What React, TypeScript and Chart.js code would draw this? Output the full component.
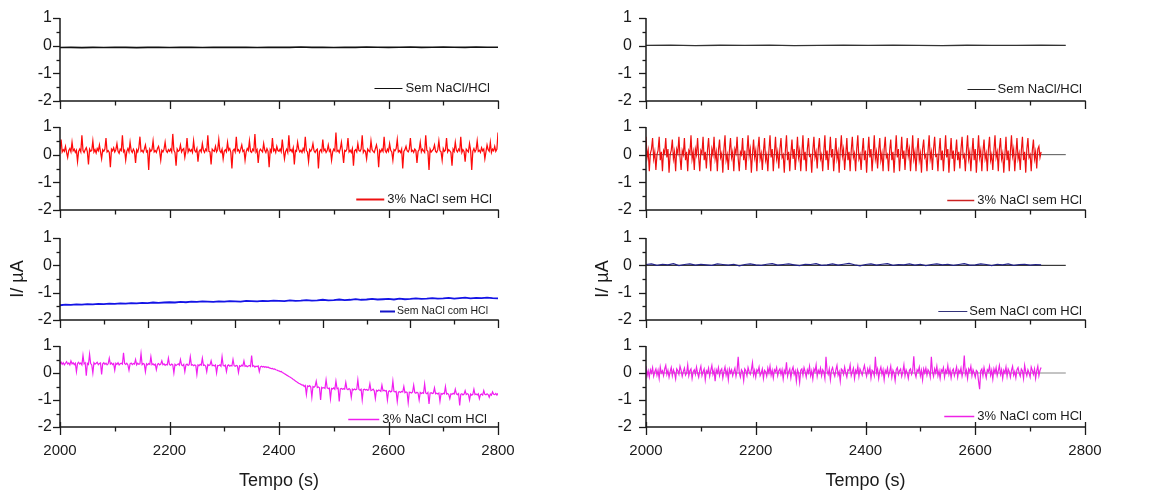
import React, { useEffect, useRef } from "react";
import { Chart, registerables } from "chart.js";

Chart.register(...registerables);
Chart.defaults.font.family = '"Liberation Sans", Arial, sans-serif';

// ---------------- data ----------------
const X_MIN = 2000;
const X_MAX = 2800;
const X_LABEL_STEP = 200;
const Y_MIN = -2;
const Y_MAX = 1;

// Left column
const L1_START = 2000;
const L1_STEP = 20;
const L1_VALUES = [
  -0.065, -0.06, -0.07, -0.06, -0.065, -0.06, -0.06, -0.07, -0.06, -0.055,
  -0.065, -0.06, -0.055, -0.065, -0.06, -0.055, -0.06, -0.055, -0.065, -0.06,
  -0.055, -0.06, -0.05, -0.06, -0.055, -0.065, -0.055, -0.06, -0.05, -0.055,
  -0.06, -0.055, -0.05, -0.06, -0.055, -0.05, -0.055, -0.06, -0.05, -0.055, -0.055,
];

const L2_START = 2000;
const L2_STEP = 2;
const L2_VALUES = [
  0.2, 0.55, 0.1, 0.18, 0.12, 0.3, 0.08, -0.1, 0.15, 0.22, 0.1, 0.45, 0.14, 0.2, 0.08, 0.16, -0.25, 0.12, 0.2, 0.1,
  0.7, 0.15, 0.08, 0.18, 0.25, 0.1, -0.35, 0.2, 0.12, 0.15, 0.5, 0.1, 0.18, 0.06, 0.22, 0.14, 0.35, 0.1, -0.15, 0.18,
  0.12, 0.2, 0.6, 0.1, 0.15, 0.08, -0.45, 0.2, 0.14, 0.25, 0.1, 0.18, 0.4, 0.12, 0.05, 0.2, 0.15, 0.7, 0.1, 0.16,
  -0.2, 0.12, 0.22, 0.1, 0.45, 0.15, 0.08, 0.2, 0.12, -0.3, 0.18, 0.1, 0.25, 0.65, 0.12, 0.16, 0.08, 0.2, 0.35, 0.1,
  0.14, -0.55, 0.2, 0.12, 0.18, 0.5, 0.1, 0.15, 0.08, 0.22, 0.3, 0.12, -0.2, 0.16, 0.1, 0.2, 0.45, 0.14, 0.08, 0.18,
  0.12, 0.2, 0.1, 0.75, 0.16, 0.08, -0.4, 0.2, 0.12, 0.15, 0.35, 0.1, 0.18, 0.22, -0.1, 0.14, 0.6, 0.1, 0.2, 0.12,
  0.18, 0.08, 0.5, 0.15, 0.1, 0.22, -0.25, 0.12, 0.18, 0.1, 0.4, 0.16, 0.08, 0.2, 0.14, 0.7, 0.12, 0.1, -0.35, 0.2,
  0.15, 0.12, 0.3, 0.1, 0.18, 0.55, 0.14, 0.08, 0.2, -0.15, 0.12, 0.18, 0.1, 0.45, 0.16, 0.22, 0.08, -0.5, 0.15, 0.2,
  0.1, 0.65, 0.14, 0.18, 0.08, 0.2, 0.35, 0.12, 0.16, -0.2, 0.1, 0.22, 0.15, 0.5, 0.12, 0.08, 0.2, 0.14, 0.75, 0.1,
  0.18, -0.3, 0.12, 0.2, 0.15, 0.1, 0.4, 0.16, 0.08, 0.22, 0.12, -0.45, 0.18, 0.1, 0.6, 0.14, 0.2, 0.08, 0.3, 0.15,
  0.12, 0.2, 0.1, 0.55, 0.16, -0.15, 0.12, 0.2, 0.08, 0.7, 0.14, 0.18, 0.1, 0.25, -0.35, 0.15, 0.12, 0.45, 0.2, 0.1,
  0.16, 0.08, 0.22, 0.12, 0.65, 0.15, 0.1, -0.25, 0.18, 0.12, 0.2, 0.4, 0.14, 0.08, 0.16, 0.2, -0.5, 0.12, 0.18, 0.1,
  0.55, 0.14, 0.2, 0.08, 0.15, 0.35, 0.12, 0.18, -0.2, 0.1, 0.2, 0.14, 0.8, 0.12, 0.16, 0.08, 0.22, 0.45, 0.1, -0.3,
  0.15, 0.12, 0.2, 0.6, 0.1, 0.16, 0.08, 0.22, -0.4, 0.14, 0.18, 0.1, 0.4, 0.15, 0.12, 0.2, 0.7, 0.08, 0.16, 0.12,
  -0.15, 0.2, 0.14, 0.1, 0.5, 0.18, 0.12, 0.08, 0.22, 0.35, 0.14, -0.45, 0.16, 0.1, 0.2, 0.12, 0.65, 0.15, 0.08, 0.2,
  0.12, 0.4, 0.16, 0.1, -0.2, 0.18, 0.14, 0.22, 0.55, 0.1, 0.15, 0.08, 0.2, -0.5, 0.12, 0.18, 0.3, 0.14, 0.1, 0.2,
  0.6, 0.12, 0.16, 0.08, 0.2, 0.15, -0.3, 0.12, 0.18, 0.45, 0.1, 0.2, 0.14, 0.08, 0.7, 0.16, 0.12, -0.55, 0.2, 0.1,
  0.15, 0.2, 0.35, 0.12, 0.08, 0.18, 0.5, 0.14, 0.1, -0.2, 0.22, 0.12, 0.16, 0.6, 0.1, 0.18, 0.14, 0.08, -0.4, 0.2,
  0.12, 0.45, 0.16, 0.1, 0.2, 0.14, 0.65, 0.08, 0.18, 0.12, -0.25, 0.2, 0.15, 0.1, 0.4, 0.16, -0.55, 0.12, 0.22, 0.1,
  0.18, 0.5, 0.12, 0.16, 0.08, 0.25, 0.14, 0.2, -0.15, 0.1, 0.35, 0.18, 0.12, 0.45, 0.08, 0.2, 0.14, 0.3, 0.12, 0.2,
  0.8,
];

const L3_START = 2000;
const L3_STEP = 10;
const L3_VALUES = [
  -1.46, -1.44, -1.45, -1.43, -1.44, -1.42, -1.43, -1.41, -1.42, -1.4,
  -1.41, -1.39, -1.4, -1.38, -1.39, -1.37, -1.38, -1.36, -1.37, -1.36,
  -1.35, -1.36, -1.34, -1.35, -1.33, -1.34, -1.32, -1.33, -1.34, -1.32,
  -1.33, -1.31, -1.32, -1.33, -1.3, -1.31, -1.32, -1.3, -1.31, -1.29,
  -1.3, -1.31, -1.28, -1.3, -1.29, -1.27, -1.29, -1.28, -1.26, -1.28,
  -1.27, -1.25, -1.27, -1.26, -1.24, -1.26, -1.25, -1.23, -1.25, -1.24,
  -1.23, -1.25, -1.22, -1.24, -1.23, -1.21, -1.23, -1.22, -1.2, -1.22,
  -1.21, -1.19, -1.22, -1.2, -1.18, -1.21, -1.19, -1.2, -1.18, -1.2,
  -1.21,
];

const L4_START = 2000;
const L4_STEP = 2;
const L4_VALUES = [
  0.35, 0.4, 0.32, 0.38, 0.3, 0.36, 0.42, 0.33, 0.37, 0.3, 0.45, 0.34, 0.38, 0.31, 0.36, 0.05, 0.35, 0.4, 0.33, 0.37,
  0.3, 0.65, 0.34, 0.38, -0.1, 0.36, 0.32, 0.7, 0.35, 0.3, 0.0, 0.38, 0.33, 0.36, 0.4, 0.31, 0.35, 0.37, -0.05, 0.34,
  0.38, 0.32, 0.36, 0.3, 0.34, 0.55, 0.33, 0.37, 0.31, 0.35, 0.1, 0.36, 0.32, 0.38, 0.3, 0.34, 0.36, 0.33, 0.75, 0.35,
  0.32, 0.36, 0.3, 0.1, 0.34, 0.37, 0.31, 0.35, 0.33, 0.5, 0.3, 0.36, 0.32, 0.34, 0.72, 0.31, 0.35, 0.33, 0.05, 0.34,
  0.3, 0.35, 0.32, 0.6, 0.31, 0.34, 0.29, 0.33, 0.12, 0.32, 0.35, 0.3, 0.33, 0.45, 0.31, 0.34, 0.28, 0.32, 0.3, 0.55,
  0.31, 0.29, 0.33, 0.3, 0.0, 0.32, 0.28, 0.31, 0.34, 0.29, 0.5, 0.3, 0.27, 0.32, 0.05, 0.3, 0.33, 0.28, 0.31, 0.6,
  0.29, 0.31, 0.27, 0.3, 0.28, -0.05, 0.3, 0.27, 0.32, 0.29, 0.55, 0.28, 0.3, 0.26, 0.05, 0.31, 0.28, 0.3, 0.45, 0.27,
  0.29, 0.26, 0.3, 0.0, 0.28, 0.27, 0.3, 0.25, 0.6, 0.28, 0.26, 0.29, 0.05, 0.27, 0.3, 0.25, 0.28, 0.26, 0.5, 0.27,
  0.25, 0.28, 0.26, 0.02, 0.27, 0.24, 0.29, 0.26, 0.45, 0.25, 0.27, 0.23, 0.26, 0.28, 0.24, 0.65, 0.25, 0.27, 0.22, 0.25,
  0.24, 0.26, 0.05, 0.23, 0.25, 0.22, 0.24, 0.21, 0.23, 0.2, 0.22, 0.19, 0.18, 0.16, 0.17, 0.14, 0.15, 0.12, 0.11, 0.09,
  0.08, 0.05, 0.06, 0.02, 0.0, -0.03, -0.05, -0.08, -0.1, -0.13, -0.15, -0.18, -0.2, -0.24, -0.26, -0.3, -0.32, -0.35, -0.38, -0.4,
  -0.42, -0.45, -0.44, -0.5, -0.46, -0.8, -0.48, -0.5, -0.47, -0.52, -0.9, -0.5, -0.53, -0.49, -0.3, -0.54, -0.52, -0.55, -1.0, -0.53,
  -0.56, -0.54, -0.57, -0.25, -0.55, -0.58, -0.56, -0.95, -0.57, -0.59, -0.55, -0.6, -0.3, -0.58, -0.56, -1.05, -0.59, -0.57, -0.6, -0.58,
  -0.6, -0.35, -0.59, -0.62, -0.58, -0.61, -0.9, -0.6, -0.63, -0.59, -0.62, -0.6, -0.25, -0.61, -0.64, -0.6, -1.0, -0.62, -0.6, -0.63,
  -0.61, -0.64, -0.62, -0.4, -0.65, -0.63, -0.6, -0.66, -0.95, -0.64, -0.67, -0.63, -0.65, -0.68, -0.45, -0.66, -0.64, -0.67, -0.65, -1.0,
  -0.68, -0.66, -0.7, -0.67, -0.3, -0.69, -0.7, -0.68, -1.05, -0.71, -0.69, -0.72, -0.68, -0.7, -0.5, -0.73, -0.7, -0.72, -1.1, -0.71,
  -0.72, -0.74, -0.7, -0.45, -0.73, -0.75, -0.71, -0.74, -1.0, -0.72, -0.76, -0.73, -0.75, -0.4, -0.74, -0.77, -0.72, -1.15, -0.75, -0.73,
  -0.76, -0.74, -0.55, -0.77, -0.75, -0.78, -0.74, -1.05, -0.76, -0.79, -0.75, -0.77, -0.5, -0.78, -0.76, -0.8, -0.95, -0.77, -0.79, -0.75,
  -0.78, -0.6, -0.77, -0.8, -0.76, -1.2, -0.79, -0.77, -0.81, -0.78, -0.65, -0.8, -0.77, -0.79, -1.0, -0.78, -0.82, -0.79, -0.6, -0.8,
  -0.78, -0.81, -0.77, -0.95, -0.8, -0.78, -0.82, -0.65, -0.79, -0.81, -0.77, -0.8, -0.9, -0.78, -0.82, -0.7, -0.79, -0.8, -0.76, -0.82,
  -0.75,
];

// Right column
const R_BASE_X = [2000, 2765];
const R_BASE_Y = [0, 0];

const R1_START = 2000;
const R1_STEP = 45;
const R1_VALUES = [
  0.01, 0.02, 0.0, 0.015, 0.01, 0.02, 0.005, 0.01, 0.015, 0.01, 0.02, 0.01, 0.0, 0.015, 0.01, 0.01, 0.015, 0.01,
];

const R2_START = 2000;
const R2_STEP = 2;
const R2_VALUES = [
  0.65, -0.1, 0.15, -0.6, 0.05, 0.2, 0.6, -0.15, 0.1, -0.55, 0.0, 0.15, 0.65, -0.2, 0.1, -0.6, 0.15, 0.05, 0.6, -0.1,
  0.2, -0.65, 0.0, 0.15, 0.55, -0.15, 0.1, -0.6, 0.2, 0.05, 0.65, -0.1, -0.55, 0.15, 0.0, 0.6, -0.2, 0.1, -0.6, 0.15,
  0.05, 0.7, -0.15, 0.1, -0.55, 0.2, 0.0, 0.6, -0.1, -0.6, 0.15, 0.05, 0.65, -0.2, 0.1, -0.5, 0.15, 0.6, -0.05, -0.6,
  0.2, 0.0, 0.65, -0.15, 0.1, -0.6, 0.15, 0.55, -0.1, 0.05, -0.65, 0.2, 0.7, -0.2, 0.0, -0.55, 0.15, 0.6, -0.1, 0.1,
  -0.6, 0.2, 0.05, 0.65, -0.15, -0.6, 0.1, 0.0, 0.6, -0.2, 0.15, -0.55, 0.1, 0.7, -0.05, 0.2, -0.65, 0.0, 0.55, -0.1,
  0.15, -0.6, 0.2, 0.65, -0.15, 0.05, -0.55, 0.1, 0.6, -0.2, 0.0, -0.6, 0.15, 0.7, -0.1, 0.2, -0.6, 0.05, 0.65, -0.15,
  0.1, -0.5, 0.2, 0.6, -0.1, 0.0, -0.65, 0.15, 0.7, -0.2, 0.1, -0.6, 0.05, 0.55, -0.15, 0.2, -0.55, 0.0, 0.65, -0.1,
  0.15, -0.6, 0.05, 0.7, -0.2, 0.1, -0.6, 0.2, 0.6, -0.05, 0.0, -0.65, 0.15, 0.65, -0.1, 0.1, -0.5, 0.2, 0.6, -0.15,
  0.0, -0.6, 0.1, 0.7, -0.2, 0.15, -0.55, 0.05, 0.65, -0.1, 0.2, -0.6, 0.0, 0.6, -0.15, 0.1, -0.65, 0.15, 0.7, -0.05,
  0.2, -0.55, 0.0, 0.6, -0.2, 0.1, -0.6, 0.15, 0.65, -0.1, 0.05, -0.6, 0.2, 0.7, -0.15, 0.0, -0.55, 0.1, 0.6, -0.2,
  0.15, -0.65, 0.05, 0.65, -0.1, 0.2, -0.6, 0.0, 0.7, -0.15, 0.1, -0.5, 0.15, 0.6, -0.2, 0.05, -0.6, 0.2, 0.65, -0.1,
  0.0, -0.6, 0.15, 0.55, -0.2, 0.1, -0.65, 0.05, 0.7, -0.1, 0.2, -0.6, 0.0, 0.65, -0.15, 0.15, -0.55, 0.1, 0.6, -0.05,
  0.2, -0.6, 0.0, 0.7, -0.15, 0.1, -0.6, 0.15, 0.6, -0.2, 0.05, -0.65, 0.2, 0.55, -0.1, 0.0, -0.6, 0.15, 0.7, -0.15,
  0.1, -0.55, 0.2, 0.65, -0.05, 0.0, -0.6, 0.1, 0.6, -0.2, 0.15, -0.6, 0.05, 0.7, -0.1, 0.2, -0.65, 0.0, 0.6, -0.15,
  0.15, -0.6, 0.05, 0.55, -0.2, 0.1, -0.5, 0.2, 0.65, -0.1, 0.0, -0.6, 0.15, 0.7, -0.15, 0.1, -0.6, 0.05, 0.6, -0.2,
  0.2, -0.65, 0.0, 0.7, -0.1, 0.15, -0.6, 0.1, 0.55, -0.15, 0.05, -0.6, 0.2, 0.65, -0.2, 0.0, -0.55, 0.15, 0.7, -0.1,
  0.1, -0.6, 0.2, 0.6, -0.15, 0.05, -0.65, 0.0, 0.65, -0.2, 0.15, -0.6, 0.1, 0.7, -0.05, 0.2, -0.6, 0.0, 0.6, -0.15,
  0.05, -0.55, 0.15, 0.65, -0.2, 0.1, -0.65, 0.2, 0.6, -0.1, 0.0, -0.6, 0.15, 0.55, -0.15, 0.1, -0.5, 0.2, 0.3, -0.1,
  0.1,
];

const R3_START = 2000;
const R3_STEP = 10;
const R3_VALUES = [
  0.03, 0.05, 0.0, 0.04, 0.02, 0.06, -0.01, 0.03, 0.05, 0.01,
  0.04, 0.02, 0.0, 0.05, 0.03, 0.01, 0.04, -0.02, 0.03, 0.05,
  0.02, 0.0, 0.04, 0.06, 0.01, 0.03, 0.05, 0.02, -0.01, 0.04,
  0.03, 0.06, 0.0, 0.02, 0.05, 0.01, 0.04, 0.07, 0.02, -0.02,
  0.03, 0.05, 0.01, 0.04, 0.06, 0.0, 0.03, 0.02, 0.05, 0.01,
  0.04, -0.01, 0.03, 0.05, 0.02, 0.04, 0.0, 0.03, 0.06, 0.01,
  0.02, 0.05, 0.03, -0.01, 0.04, 0.02, 0.05, 0.0, 0.03, 0.04,
  0.01, 0.03, 0.02,
];

const R4_START = 2000;
const R4_STEP = 2;
const R4_VALUES = [
  0.25, -0.1, 0.08, -0.15, 0.12, 0.0, 0.2, -0.12, 0.05, 0.15, -0.08, 0.1, -0.2, 0.22, 0.0, 0.08, -0.1, 0.15, 0.28, -0.05,
  0.1, -0.15, 0.05, 0.2, -0.1, 0.12, 0.0, -0.22, 0.15, 0.08, -0.05, 0.25, 0.1, -0.12, 0.05, 0.18, -0.08, 0.0, 0.3, -0.1,
  0.08, 0.15, -0.2, 0.05, 0.12, -0.05, 0.22, 0.0, -0.15, 0.1, 0.25, -0.1, 0.05, 0.15, -0.25, 0.08, 0.0, 0.18, -0.12, 0.1,
  0.28, -0.05, 0.1, -0.3, 0.12, 0.0, 0.2, -0.1, 0.08, 0.15, -0.18, 0.05, 0.22, -0.08, 0.1, -0.25, 0.15, 0.0, 0.12, -0.1,
  0.05, 0.18, -0.12, 0.1, 0.6, 0.0, -0.15, 0.12, 0.05, -0.28, 0.15, 0.08, -0.1, 0.2, 0.05, -0.05, 0.12, 0.38, -0.08, 0.1,
  -0.15, 0.12, 0.05, 0.22, -0.1, 0.0, 0.15, -0.2, 0.1, 0.05, -0.12, 0.18, 0.0, 0.25, -0.08, 0.1, -0.18, 0.12, 0.05, 0.2,
  -0.1, 0.08, 0.15, -0.05, 0.12, -0.22, 0.1, 0.0, 0.4, -0.12, 0.05, 0.15, -0.18, 0.1, 0.22, -0.05, 0.08, -0.3, 0.12, 0.0,
  -0.35, 0.1, 0.15, -0.08, 0.2, 0.05, -0.15, 0.12, 0.0, 0.25, -0.1, 0.08, -0.22, 0.15, 0.05, 0.3, -0.12, 0.1, 0.0, 0.18,
  -0.1, 0.12, 0.05, -0.2, 0.6, 0.08, -0.05, 0.15, -0.25, 0.1, 0.2, 0.0, -0.12, 0.12, 0.28, -0.08, 0.05, -0.3, 0.15, 0.1,
  -0.05, 0.22, 0.0, -0.15, 0.12, 0.08, 0.3, -0.1, 0.05, 0.18, -0.2, 0.1, 0.0, 0.25, -0.12, 0.15, 0.05, -0.08, 0.12, 0.28,
  0.05, -0.12, 0.15, 0.0, 0.2, -0.18, 0.1, 0.05, -0.1, 0.6, 0.0, 0.15, -0.2, 0.08, 0.22, -0.05, 0.12, -0.25, 0.1, 0.0,
  0.18, -0.1, 0.05, 0.25, -0.15, 0.1, 0.0, -0.28, 0.12, 0.2, -0.05, 0.08, 0.15, -0.12, 0.05, 0.3, -0.1, 0.12, 0.0, -0.2,
  0.1, 0.15, -0.05, 0.08, 0.62, 0.0, -0.15, 0.12, 0.05, 0.22, -0.1, 0.1, -0.25, 0.15, 0.0, 0.18, -0.08, 0.12, 0.05, -0.15,
  0.6, 0.05, -0.12, 0.15, 0.0, 0.25, -0.1, 0.08, -0.2, 0.12, 0.05, 0.2, -0.15, 0.1, 0.0, 0.28, -0.05, 0.12, -0.18, 0.08,
  0.15, -0.1, 0.05, 0.22, -0.15, 0.1, 0.0, 0.18, -0.12, 0.08, 0.65, -0.05, 0.1, -0.2, 0.15, 0.05, 0.25, -0.1, 0.12, 0.0,
  -0.15, 0.1, 0.05, -0.3, -0.6, 0.08, 0.15, -0.1, 0.2, 0.0, -0.18, 0.12, 0.05, 0.25, -0.08, 0.1, -0.22, 0.15, 0.0, 0.2,
  -0.1, 0.08, 0.28, -0.05, 0.12, -0.2, 0.1, 0.0, 0.22, -0.12, 0.15, 0.05, -0.15, 0.1, 0.25, -0.08, 0.05, -0.18, 0.12, 0.2,
  0.0, -0.12, 0.15, 0.08, -0.2, 0.28, 0.05, -0.1, 0.12, 0.0, -0.15, 0.22, 0.1, -0.05, 0.15, -0.2, 0.08, 0.25, -0.1, 0.1,
  0.2,
];

const LEGEND_TEXTS = [
  "Sem NaCl/HCl",
  "3% NaCl sem HCl",
  "Sem NaCl com HCl",
  "3% NaCl com HCl",
];
const X_TITLE = "Tempo (s)";
const Y_TITLE = "I/ µA";

// ---------------- helpers ----------------
type Pt = { x: number; y: number };
function toPoints(start: number, step: number, values: number[]): Pt[] {
  return values.map((v, i) => ({ x: start + i * step, y: v }));
}
function pairPoints(xs: number[], ys: number[]): Pt[] {
  return xs.map((x, i) => ({ x, y: ys[i] }));
}

type DS = { points: Pt[]; color: string; width: number; order: number };
type LegendCfg = {
  text: string;
  color: string;
  size: number;
  lineLen: number;
  lineWidth: number;
  gap: number;
  dx: number;
  dy: number;
};
type PanelCfg = {
  col: 0 | 1;
  row: number;
  datasets: DS[];
  legend: LegendCfg;
  xMinor: number;
  xMajor: number;
};

const PANEL_TOP = [18, 127, 238, 346];
const PANEL_BOTTOM = [101, 210, 320, 427];
const PAD_V = 30;
const COLS = [
  { left: 0, width: 570, axisW: 60, plotRight: 498, labelPad: 8, titlePad: 9 },
  { left: 580, width: 570, axisW: 66, plotRight: 505, labelPad: 14, titlePad: 14 },
];
const PAGE_H = 490;

const framePlugin = {
  id: "frame",
  afterDraw(chart: any, _args: any, opts: any) {
    const { ctx, chartArea: a, scales } = chart;
    const xs = scales.x;
    const ys = scales.y;
    ctx.save();
    ctx.strokeStyle = "#1a1a1a";
    ctx.lineWidth = 1.5;
    ctx.beginPath();
    ctx.moveTo(a.left, a.top);
    ctx.lineTo(a.left, a.bottom);
    ctx.lineTo(a.right + 0.75, a.bottom);
    ctx.stroke();
    ctx.lineWidth = 1.3;
    for (let v = Y_MIN; v <= Y_MAX + 1e-9; v += 0.5) {
      const py = Math.round(ys.getPixelForValue(v)) + 0.5;
      const len = Math.abs(v - Math.round(v)) < 1e-6 ? 7 : 3.5;
      ctx.beginPath();
      ctx.moveTo(a.left - len, py);
      ctx.lineTo(a.left, py);
      ctx.stroke();
    }
    for (let v = X_MIN; v <= X_MAX + 1e-9; v += opts.xMinor) {
      const px = Math.round(xs.getPixelForValue(v)) + 0.5;
      const major = Math.abs((v - X_MIN) % opts.xMajor) < 1e-6;
      const len = major ? 8 : 4.5;
      ctx.beginPath();
      ctx.moveTo(px, a.bottom - (opts.crossMajor && major ? 5 : 0));
      ctx.lineTo(px, a.bottom + len);
      ctx.stroke();
    }
    const lg: LegendCfg = opts.legend;
    ctx.font = `${lg.size}px "Liberation Sans", Arial, sans-serif`;
    const tw = ctx.measureText(lg.text).width;
    const tr = a.right - lg.dx;
    const tl = tr - tw;
    const ly = Math.round(a.bottom - lg.dy) + 0.5;
    ctx.strokeStyle = lg.color;
    ctx.lineWidth = lg.lineWidth;
    ctx.beginPath();
    ctx.moveTo(tl - lg.gap - lg.lineLen, ly);
    ctx.lineTo(tl - lg.gap, ly);
    ctx.stroke();
    ctx.fillStyle = "#1a1a1a";
    ctx.textBaseline = "middle";
    ctx.textAlign = "left";
    ctx.fillText(lg.text, tl, ly);
    ctx.restore();
  },
};

function Panel({ cfg }: { cfg: PanelCfg }) {
  const ref = useRef<HTMLCanvasElement | null>(null);
  const col = COLS[cfg.col];
  const isBottom = cfg.row === 3;
  const top = PANEL_TOP[cfg.row] - PAD_V;
  const bottom = isBottom ? PAGE_H : PANEL_BOTTOM[cfg.row] + PAD_V;
  const height = bottom - top;
  const xAxisH = bottom - PANEL_BOTTOM[cfg.row];
  const showYTitle = cfg.row === 2;

  useEffect(() => {
    if (!ref.current) return;
    const chart = new Chart(ref.current, {
      type: "line",
      data: {
        datasets: cfg.datasets.map((d) => ({
          data: d.points,
          borderColor: d.color,
          borderWidth: d.width,
          pointRadius: 0,
          tension: 0,
          fill: false,
          order: d.order,
        })),
      },
      options: {
        animation: false,
        responsive: true,
        maintainAspectRatio: false,
        events: [],
        layout: { padding: { top: PAD_V, right: col.width - col.plotRight, bottom: 0, left: 0 } },
        plugins: {
          legend: { display: false },
          tooltip: { enabled: false },
          frame: { legend: cfg.legend, xMinor: cfg.xMinor, xMajor: cfg.xMajor, crossMajor: isBottom },
        } as any,
        scales: {
          x: {
            type: "linear",
            min: X_MIN,
            max: X_MAX,
            grid: { display: false, drawTicks: false },
            border: { display: false },
            ticks: {
              display: isBottom,
              stepSize: X_LABEL_STEP,
              color: "#1a1a1a",
              font: { size: 15 },
              padding: 15,
              maxRotation: 0,
              autoSkip: false,
              callback: (v: any) => String(v),
            },
            title: {
              display: isBottom,
              text: X_TITLE,
              color: "#1a1a1a",
              font: { size: 18, lineHeight: 1 },
              padding: 0,
            },
            afterFit: (s: any) => {
              s.height = xAxisH;
            },
          },
          y: {
            min: Y_MIN,
            max: Y_MAX,
            grid: { display: false, drawTicks: false },
            border: { display: false },
            ticks: {
              stepSize: 1,
              color: "#1a1a1a",
              font: { size: 16 },
              padding: col.labelPad,
              callback: (v: any) => String(v),
            },
            title: {
              display: showYTitle,
              text: Y_TITLE,
              color: "#1a1a1a",
              font: { size: 18, lineHeight: 1 },
              padding: { top: col.titlePad, bottom: 0 },
            },
            afterFit: (s: any) => {
              s.width = col.axisW;
            },
          },
        } as any,
      },
      plugins: [framePlugin as any],
    });
    return () => chart.destroy();
  }, [cfg]);

  return (
    <div
      style={{
        position: "absolute",
        left: col.left,
        top,
        width: col.width,
        height,
      }}
    >
      <canvas ref={ref} />
    </div>
  );
}

const RIGHT_ZERO: DS = { points: pairPoints(R_BASE_X, R_BASE_Y), color: "#555555", width: 1, order: 2 };

const PANELS: PanelCfg[] = [
  {
    col: 0, row: 0, xMinor: 100, xMajor: 200,
    datasets: [{ points: toPoints(L1_START, L1_STEP, L1_VALUES), color: "#111111", width: 1.6, order: 1 }],
    legend: { text: LEGEND_TEXTS[0], color: "#111111", size: 13, lineLen: 28, lineWidth: 1, gap: 3, dx: 8, dy: 13 },
  },
  {
    col: 0, row: 1, xMinor: 100, xMajor: 200,
    datasets: [{ points: toPoints(L2_START, L2_STEP, L2_VALUES), color: "#ff0a0a", width: 1.25, order: 1 }],
    legend: { text: LEGEND_TEXTS[1], color: "#ee1111", size: 13, lineLen: 28, lineWidth: 2, gap: 3, dx: 6, dy: 11 },
  },
  {
    col: 0, row: 2, xMinor: 80, xMajor: 160,
    datasets: [{ points: toPoints(L3_START, L3_STEP, L3_VALUES), color: "#1414e6", width: 1.8, order: 1 }],
    legend: { text: LEGEND_TEXTS[2], color: "#1414c8", size: 10.5, lineLen: 15, lineWidth: 2, gap: 2, dx: 10, dy: 9 },
  },
  {
    col: 0, row: 3, xMinor: 100, xMajor: 200,
    datasets: [{ points: toPoints(L4_START, L4_STEP, L4_VALUES), color: "#f01ef0", width: 1.2, order: 1 }],
    legend: { text: LEGEND_TEXTS[3], color: "#f01ef0", size: 13, lineLen: 31, lineWidth: 1.5, gap: 3, dx: 11, dy: 8 },
  },
  {
    col: 1, row: 0, xMinor: 100, xMajor: 200,
    datasets: [{ points: toPoints(R1_START, R1_STEP, R1_VALUES), color: "#333333", width: 1.3, order: 1 }],
    legend: { text: LEGEND_TEXTS[0], color: "#222222", size: 13, lineLen: 28, lineWidth: 1, gap: 2, dx: 3, dy: 12 },
  },
  {
    col: 1, row: 1, xMinor: 100, xMajor: 200,
    datasets: [
      { points: toPoints(R2_START, R2_STEP, R2_VALUES), color: "#ee1010", width: 1.2, order: 1 },
      RIGHT_ZERO,
    ],
    legend: { text: LEGEND_TEXTS[1], color: "#cc2222", size: 13, lineLen: 27, lineWidth: 1.5, gap: 3, dx: 3, dy: 10 },
  },
  {
    col: 1, row: 2, xMinor: 100, xMajor: 200,
    datasets: [
      { points: toPoints(R3_START, R3_STEP, R3_VALUES), color: "#22228a", width: 1.2, order: 1 },
      { ...RIGHT_ZERO, color: "#111111" },
    ],
    legend: { text: LEGEND_TEXTS[2], color: "#33337a", size: 13, lineLen: 29, lineWidth: 1, gap: 2, dx: 3, dy: 9 },
  },
  {
    col: 1, row: 3, xMinor: 100, xMajor: 200,
    datasets: [
      { points: toPoints(R4_START, R4_STEP, R4_VALUES), color: "#ee22e6", width: 1.2, order: 1 },
      { ...RIGHT_ZERO, color: "#888888" },
    ],
    legend: { text: LEGEND_TEXTS[3], color: "#ee22e6", size: 13, lineLen: 30, lineWidth: 1.5, gap: 3, dx: 3, dy: 11 },
  },
];

export default function App() {
  return (
    <div style={{ position: "absolute", left: 0, top: 0, width: 1168, height: 490, background: "#fff" }}>
      {PANELS.map((p, i) => (
        <Panel key={i} cfg={p} />
      ))}
    </div>
  );
}
